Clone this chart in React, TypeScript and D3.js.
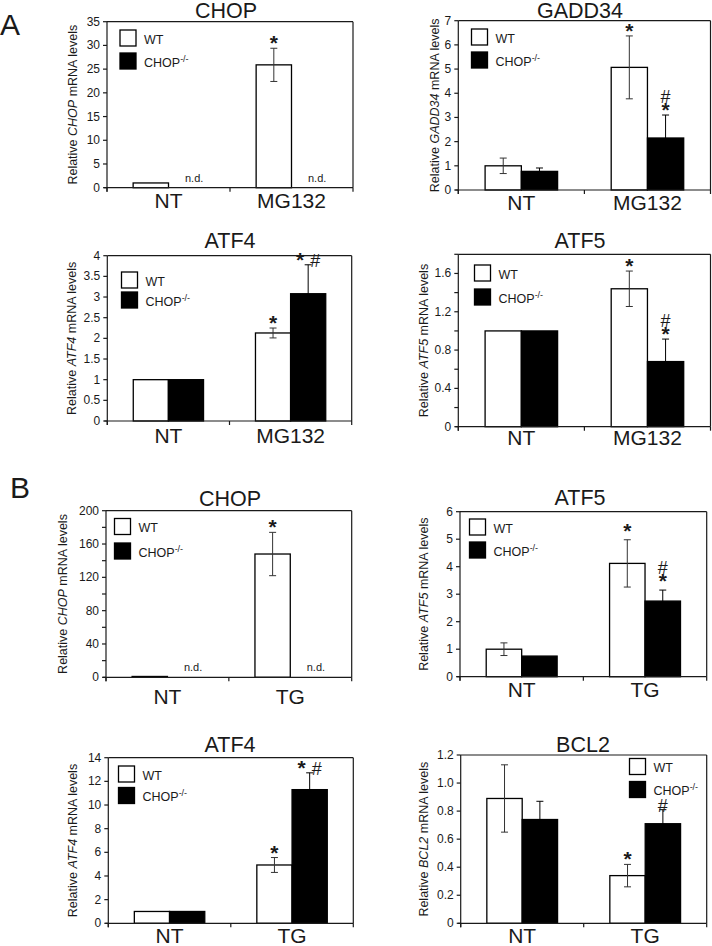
import React from "react";
import * as d3 from "d3";

// ---------- DATA ----------
const SERIES = ["WT", "CHOP-/-"];
const CATS_MG132 = ["NT", "MG132"];
const CATS_TG = ["NT", "TG"];

// A: MG132
const A_CHOP_WT = [1.0, 25.9];
const A_CHOP_WT_ERR = [0, 3.5];
const A_CHOP_KO: (number | null)[] = [null, null];
const A_CHOP_KO_ERR = [0, 0];
const A_CHOP_TICKS = [0, 5, 10, 15, 20, 25, 30, 35];
const A_CHOP_TICK_LABELS = ["0", "5", "10", "15", "20", "25", "30", "35"];

const A_GADD34_WT = [1.0, 5.07];
const A_GADD34_WT_ERR = [0.32, 1.3];
const A_GADD34_KO = [0.77, 2.15];
const A_GADD34_KO_ERR = [0.14, 0.95];
const A_GADD34_TICKS = [0, 1, 2, 3, 4, 5, 6, 7];
const A_GADD34_TICK_LABELS = ["0", "1", "2", "3", "4", "5", "6", "7"];

const A_ATF4_WT = [1.0, 2.13];
const A_ATF4_WT_ERR = [0, 0.12];
const A_ATF4_KO = [1.0, 3.08];
const A_ATF4_KO_ERR = [0, 0.7];
const A_ATF4_TICKS = [0, 0.5, 1, 1.5, 2, 2.5, 3, 3.5, 4];
const A_ATF4_TICK_LABELS = ["0", "0.5", "1", "1.5", "2", "2.5", "3", "3.5", "4"];

const A_ATF5_WT = [1.0, 1.44];
const A_ATF5_WT_ERR = [0, 0.185];
const A_ATF5_KO = [1.0, 0.68];
const A_ATF5_KO_ERR = [0, 0.235];
const A_ATF5_TICKS = [0, 0.2, 0.4, 0.6, 0.8, 1.0, 1.2, 1.4, 1.6, 1.8];
const A_ATF5_TICK_LABELS = ["0", "", "0.4", "", "0.8", "", "1.2", "", "1.6", ""];

// B: TG
const B_CHOP_WT = [1.0, 148];
const B_CHOP_WT_ERR = [0, 26];
const B_CHOP_KO: (number | null)[] = [null, null];
const B_CHOP_KO_ERR = [0, 0];
const B_CHOP_TICKS = [0, 20, 40, 60, 80, 100, 120, 140, 160, 180, 200];
const B_CHOP_TICK_LABELS = ["0", "", "40", "", "80", "", "120", "", "160", "", "200"];

const B_ATF5_WT = [1.0, 4.12];
const B_ATF5_WT_ERR = [0.23, 0.86];
const B_ATF5_KO = [0.75, 2.75];
const B_ATF5_KO_ERR = [0, 0.4];
const B_ATF5_TICKS = [0, 1, 2, 3, 4, 5, 6];
const B_ATF5_TICK_LABELS = ["0", "1", "2", "3", "4", "5", "6"];

const B_ATF4_WT = [1.0, 4.93];
const B_ATF4_WT_ERR = [0, 0.63];
const B_ATF4_KO = [1.0, 11.3];
const B_ATF4_KO_ERR = [0, 1.42];
const B_ATF4_TICKS = [0, 2, 4, 6, 8, 10, 12, 14];
const B_ATF4_TICK_LABELS = ["0", "2", "4", "6", "8", "10", "12", "14"];

const B_BCL2_WT = [0.89, 0.34];
const B_BCL2_WT_ERR = [0.24, 0.08];
const B_BCL2_KO = [0.74, 0.71];
const B_BCL2_KO_ERR = [0.13, 0.1];
const B_BCL2_TICKS = [0, 0.2, 0.4, 0.6, 0.8, 1.0, 1.2];
const B_BCL2_TICK_LABELS = ["0", "0.2", "0.4", "0.6", "0.8", "1.0", "1.2"];

type Note = { cat: number; s: number; lines: string[] };
type PanelData = {
  title: string;
  cats: string[];
  wt: (number | null)[];
  wtErr: number[];
  ko: (number | null)[];
  koErr: number[];
  ticks: number[];
  tickLabels: string[];
  notes: Note[];
};

const PANELS: PanelData[] = [
  { title: "CHOP", cats: CATS_MG132, wt: A_CHOP_WT, wtErr: A_CHOP_WT_ERR, ko: A_CHOP_KO, koErr: A_CHOP_KO_ERR, ticks: A_CHOP_TICKS, tickLabels: A_CHOP_TICK_LABELS, notes: [{ cat: 1, s: 0, lines: ["*"] }] },
  { title: "GADD34", cats: CATS_MG132, wt: A_GADD34_WT, wtErr: A_GADD34_WT_ERR, ko: A_GADD34_KO, koErr: A_GADD34_KO_ERR, ticks: A_GADD34_TICKS, tickLabels: A_GADD34_TICK_LABELS, notes: [{ cat: 1, s: 0, lines: ["*"] }, { cat: 1, s: 1, lines: ["*", "#"] }] },
  { title: "ATF4", cats: CATS_MG132, wt: A_ATF4_WT, wtErr: A_ATF4_WT_ERR, ko: A_ATF4_KO, koErr: A_ATF4_KO_ERR, ticks: A_ATF4_TICKS, tickLabels: A_ATF4_TICK_LABELS, notes: [{ cat: 1, s: 0, lines: ["*"] }, { cat: 1, s: 1, lines: ["* #"] }] },
  { title: "ATF5", cats: CATS_MG132, wt: A_ATF5_WT, wtErr: A_ATF5_WT_ERR, ko: A_ATF5_KO, koErr: A_ATF5_KO_ERR, ticks: A_ATF5_TICKS, tickLabels: A_ATF5_TICK_LABELS, notes: [{ cat: 1, s: 0, lines: ["*"] }, { cat: 1, s: 1, lines: ["*", "#"] }] },
  { title: "CHOP", cats: CATS_TG, wt: B_CHOP_WT, wtErr: B_CHOP_WT_ERR, ko: B_CHOP_KO, koErr: B_CHOP_KO_ERR, ticks: B_CHOP_TICKS, tickLabels: B_CHOP_TICK_LABELS, notes: [{ cat: 1, s: 0, lines: ["*"] }] },
  { title: "ATF5", cats: CATS_TG, wt: B_ATF5_WT, wtErr: B_ATF5_WT_ERR, ko: B_ATF5_KO, koErr: B_ATF5_KO_ERR, ticks: B_ATF5_TICKS, tickLabels: B_ATF5_TICK_LABELS, notes: [{ cat: 1, s: 0, lines: ["*"] }, { cat: 1, s: 1, lines: ["*", "#"] }] },
  { title: "ATF4", cats: CATS_TG, wt: B_ATF4_WT, wtErr: B_ATF4_WT_ERR, ko: B_ATF4_KO, koErr: B_ATF4_KO_ERR, ticks: B_ATF4_TICKS, tickLabels: B_ATF4_TICK_LABELS, notes: [{ cat: 1, s: 0, lines: ["*"] }, { cat: 1, s: 1, lines: ["* #"] }] },
  { title: "BCL2", cats: CATS_TG, wt: B_BCL2_WT, wtErr: B_BCL2_WT_ERR, ko: B_BCL2_KO, koErr: B_BCL2_KO_ERR, ticks: B_BCL2_TICKS, tickLabels: B_BCL2_TICK_LABELS, notes: [{ cat: 1, s: 0, lines: ["*"] }, { cat: 1, s: 1, lines: ["#"] }] },
];

// ---------- LAYOUT ----------
type Layout = {
  l: number; t: number; r: number; b: number;
  titleX: number; titleY: number;
  yLabelX: number; catDy: number;
  legX: number; legY: number; legGap: number;
  noteLift: number;
};
const LAYOUT: Layout[] = [
  { l: 107, t: 21.7, r: 353, b: 187.7, titleX: 226, titleY: 18, yLabelX: 73, catDy: 20, legX: 120, legY: 30, legGap: 23, noteLift: 0 },
  { l: 458.3, t: 20.7, r: 710.5, b: 190, titleX: 580, titleY: 18, yLabelX: 435, catDy: 19.5, legX: 471.5, legY: 29, legGap: 23, noteLift: 0 },
  { l: 107.3, t: 255.7, r: 351.7, b: 421, titleX: 230, titleY: 248, yLabelX: 72, catDy: 22, legX: 121.5, legY: 272, legGap: 20, noteLift: 0 },
  { l: 458.3, t: 254.3, r: 710.5, b: 426.7, titleX: 580, titleY: 248, yLabelX: 424, catDy: 18.5, legX: 474.5, legY: 265, legGap: 24, noteLift: 0 },
  { l: 106, t: 510.7, r: 351.7, b: 677.3, titleX: 230, titleY: 506, yLabelX: 63, catDy: 27, legX: 114.5, legY: 518.5, legGap: 24.5, noteLift: 0 },
  { l: 460, t: 511.7, r: 706.7, b: 676.7, titleX: 580, titleY: 505, yLabelX: 424, catDy: 20, legX: 469.5, legY: 519, legGap: 23, noteLift: 4 },
  { l: 108.3, t: 757.7, r: 353.3, b: 923.3, titleX: 230, titleY: 751.5, yLabelX: 73, catDy: 19.5, legX: 118.5, legY: 766, legGap: 21.5, noteLift: 0 },
  { l: 460.7, t: 755, r: 706.7, b: 923.3, titleX: 583, titleY: 751.5, yLabelX: 424, catDy: 19.5, legX: 629.5, legY: 758.5, legGap: 23, noteLift: 0 },
];

const FONT = "'Liberation Sans', Arial, Helvetica, sans-serif";
const INK = "#1a1a1a";

function NoteLine({ text }: { text: string }) {
  const chars = text.split("");
  return (
    <>
      {chars.map((ch, i) => {
        if (ch === " ") return null;
        const gap = i > 0 && chars[i - 1] === " " ? 6 : 0;
        return ch === "*" ? (
          <tspan key={i} fontWeight="bold" fontSize={21} dx={gap}>*</tspan>
        ) : (
          <tspan key={i} fontSize={18} dx={gap}>{ch}</tspan>
        );
      })}
    </>
  );
}

function BarPanel({ d, L }: { d: PanelData; L: Layout }) {
  const yMax = d.ticks[d.ticks.length - 1];
  const y = d3.scaleLinear().domain([0, yMax]).range([L.b, L.t]);
  const x0 = d3.scaleBand<string>().domain(d.cats).range([L.l, L.r]).paddingInner(0).paddingOuter(0);
  const groupW = x0.step() * 0.575;
  const x1 = d3.scaleBand<string>().domain(SERIES).range([0, groupW]).padding(0);
  const gx = (c: string) => (x0(c) as number) + x0.bandwidth() / 2 - groupW / 2;
  const bw = x1.bandwidth();
  const vals = [d.wt, d.ko];
  const errs = [d.wtErr, d.koErr];
  const capW = 7;

  const bars: React.ReactNode[] = [];
  const errBars: React.ReactNode[] = [];
  const nds: React.ReactNode[] = [];
  d.cats.forEach((c, ci) => {
    SERIES.forEach((s, si) => {
      const v = vals[si][ci];
      const bx = gx(c) + (x1(s) as number);
      if (v === null) {
        nds.push(
          <text key={`nd${ci}${si}`} x={bx + bw / 2 + 8} y={L.b - 6} fontSize={11} textAnchor="middle" fill={INK} fontFamily={FONT}>n.d.</text>
        );
        return;
      }
      bars.push(
        <rect key={`b${ci}${si}`} x={bx} y={y(v)} width={bw} height={L.b - y(v)} fill={si === 0 ? "#fff" : "#000"} stroke="#000" strokeWidth={1.3} />
      );
      const e = errs[si][ci];
      if (e > 0) {
        const cx = bx + bw / 2;
        const col = si === 0 ? "#333" : "#000";
        errBars.push(
          <g key={`e${ci}${si}`} stroke={col} strokeWidth={1}>
            <line x1={cx} x2={cx} y1={y(v + e)} y2={y(v - e)} />
            <line x1={cx - capW / 2} x2={cx + capW / 2} y1={y(v + e)} y2={y(v + e)} />
            <line x1={cx - capW / 2} x2={cx + capW / 2} y1={y(v - e)} y2={y(v - e)} />
          </g>
        );
      }
    });
  });

  const notes = d.notes.map((n, i) => {
    const v = vals[n.s][n.cat] as number;
    const e = errs[n.s][n.cat];
    const cx = gx(d.cats[n.cat]) + (x1(SERIES[n.s]) as number) + bw / 2;
    const base = y(v + e) + 2 - L.noteLift;
    return (
      <g key={`n${i}`}>
        {n.lines.map((ln, li) => (
          <text key={li} x={cx} y={base - li * 14} textAnchor="middle" fill={INK} fontFamily={FONT}>
            <NoteLine text={ln} />
          </text>
        ))}
      </g>
    );
  });

  const midY = (L.t + L.b) / 2;
  const xTicks = [L.l, ...d.cats.slice(1).map((c) => x0(c) as number), L.r];

  return (
    <g>
      <text x={L.titleX} y={L.titleY} fontSize={21.5} textAnchor="middle" fill={INK} fontFamily={FONT}>{d.title}</text>
      <text transform={`translate(${L.yLabelX},${midY}) rotate(-90)`} fontSize={12.5} textAnchor="middle" dominantBaseline="central" fill={INK} fontFamily={FONT}>
        Relative <tspan fontStyle="italic">{d.title}</tspan> mRNA levels
      </text>
      {bars}
      {errBars}
      {nds}
      {notes}
      <g stroke={INK} strokeWidth={1.2} fill="none">
        <line x1={L.l} x2={L.r} y1={L.t} y2={L.t} />
        <line x1={L.r} x2={L.r} y1={L.t} y2={L.b} />
        <line x1={L.l} x2={L.l} y1={L.t} y2={L.b + 4} />
        <line x1={L.l - 3} x2={L.r} y1={L.b} y2={L.b} />
        {d.ticks.map((t, i) => (
          <line key={`yt${i}`} x1={L.l - 4} x2={L.l} y1={y(t)} y2={y(t)} />
        ))}
        {xTicks.map((tx, i) => (
          <line key={`xt${i}`} x1={tx} x2={tx} y1={L.b} y2={L.b + 4} />
        ))}
      </g>
      {d.ticks.map((t, i) =>
        d.tickLabels[i] ? (
          <text key={`yl${i}`} x={L.l - 7} y={y(t)} fontSize={12} textAnchor="end" dominantBaseline="central" fill={INK} fontFamily={FONT}>{d.tickLabels[i]}</text>
        ) : null
      )}
      {d.cats.map((c) => (
        <text key={`c${c}`} x={(x0(c) as number) + x0.bandwidth() / 2} y={L.b + L.catDy} fontSize={21} textAnchor="middle" fill={INK} fontFamily={FONT}>{c}</text>
      ))}
      <g fontFamily={FONT} fill={INK}>
        <rect x={L.legX} y={L.legY} width={16} height={16} fill="#fff" stroke="#000" strokeWidth={1.3} />
        <rect x={L.legX} y={L.legY + L.legGap} width={16} height={16} fill="#000" stroke="#000" strokeWidth={1.3} />
        <text x={L.legX + 24} y={L.legY + 13.5} fontSize={12.5}>{SERIES[0]}</text>
        <text x={L.legX + 24} y={L.legY + L.legGap + 13.5} fontSize={12.5}>
          CHOP<tspan fontSize={9} dy={-5}>-/-</tspan>
        </text>
      </g>
    </g>
  );
}

export default function App() {
  return (
    <svg width={712} height={946} style={{ position: "absolute", left: 0, top: 0, background: "#fff" }} fontFamily={FONT}>
      <rect x={0} y={0} width={712} height={946} fill="#fff" />
      <text x={0} y={35} fontSize={30} fill={INK} fontFamily={FONT}>A</text>
      <text x={10} y={497.5} fontSize={30} fill={INK} fontFamily={FONT}>B</text>
      {PANELS.map((p, i) => (
        <BarPanel key={i} d={p} L={LAYOUT[i]} />
      ))}
    </svg>
  );
}
